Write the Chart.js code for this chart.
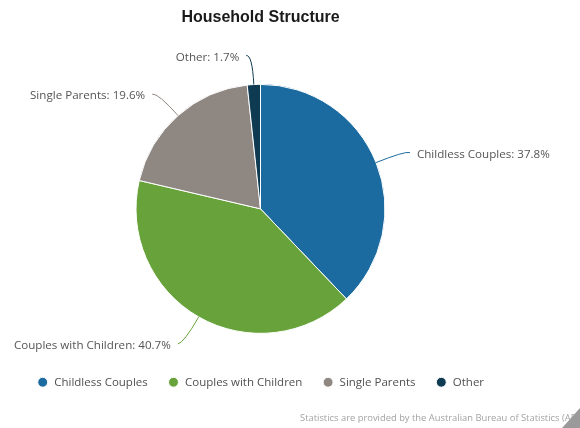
<!DOCTYPE html>
<html>
<head>
<meta charset="utf-8">
<title>Household Structure</title>
<script src="https://cdn.jsdelivr.net/npm/chart.js@4/dist/chart.umd.min.js"></script>
<style>
  html, body { margin: 0; padding: 0; background: #fff; }
  #wrap { width: 580px; height: 428px; position: relative; }
</style>
</head>
<body>
<div id="wrap"><canvas id="householdChart" width="580" height="428"></canvas></div>
<script>
// Household structure shares (percent)
var categories = ['Childless Couples', 'Couples with Children', 'Single Parents', 'Other'];
var shares = [37.8, 40.7, 19.6, 1.7];
var sliceColors = ['#1b6aa0', '#67a33a', '#8f8782', '#0e3a52'];
var creditText = 'Statistics are provided by the Australian Bureau of Statistics (ABS)';

// Draws "Name: value%" labels with curved connectors, like the original
var sliceLabels = {
  id: 'sliceLabels',
  afterDatasetsDraw: function (chart) {
    var ctx = chart.ctx;
    var meta = chart.getDatasetMeta(0);
    ctx.save();
    ctx.font = '11.6px "Open Sans"';
    ctx.textBaseline = 'middle';
    meta.data.forEach(function (arc, i) {
      var p = arc.getProps(['x', 'y', 'startAngle', 'endAngle', 'outerRadius'], true);
      var mid = (p.startAngle + p.endAngle) / 2;
      var cx = Math.cos(mid), cy = Math.sin(mid);
      var side = cx >= 0 ? 1 : -1;
      var ex = p.x + p.outerRadius * cx, ey = p.y + p.outerRadius * cy;
      var ax = p.x + (p.outerRadius + 30) * cx, ay = p.y + (p.outerRadius + 30) * cy;
      var endX = ax + side * 6, endY = ay + 1;

      ctx.strokeStyle = sliceColors[i];
      ctx.lineWidth = 1;
      ctx.beginPath();
      ctx.moveTo(ex, ey);
      ctx.quadraticCurveTo(ax, ay, endX, endY);
      ctx.stroke();

      ctx.fillStyle = '#555';
      ctx.textAlign = side > 0 ? 'left' : 'right';
      ctx.fillText(categories[i] + ': ' + shares[i] + '%', ax + side * 13, ay + 3);
    });
    ctx.restore();
  },
  afterDraw: function (chart) {
    var ctx = chart.ctx;
    ctx.save();
    ctx.font = '9.4px "Open Sans"';
    ctx.fillStyle = '#a3a3a3';
    ctx.textAlign = 'left';
    ctx.textBaseline = 'middle';
    ctx.fillText(creditText, 300, 418);
    // folded page corner
    ctx.fillStyle = '#9a9a9a';
    ctx.beginPath();
    ctx.moveTo(580, 408);
    ctx.lineTo(580, 428);
    ctx.lineTo(562, 428);
    ctx.closePath();
    ctx.fill();
    ctx.restore();
  }
};

var ctx = document.getElementById('householdChart');
var chart = new Chart(ctx, {
  type: 'pie',
  data: {
    labels: categories,
    datasets: [{
      data: shares,
      backgroundColor: sliceColors,
      borderColor: '#ffffff',
      borderWidth: 1,
      radius: 124.5
    }]
  },
  options: {
    responsive: false,
    animation: false,
    layout: { padding: { left: 0, right: 59, top: 0, bottom: 30 } },
    plugins: {
      title: {
        display: true,
        text: 'Household Structure',
        color: '#1a1a1a',
        font: { family: '"Liberation Sans", Arial, sans-serif', size: 16, weight: 'bold' },
        padding: { top: 8, bottom: 34 }
      },
      legend: {
        position: 'bottom',
        labels: {
          usePointStyle: true,
          pointStyle: 'circle',
          boxWidth: 14,
          boxHeight: 7,
          padding: 20,
          color: '#505050',
          font: { family: '"Open Sans"', size: 11.5 }
        }
      },
      tooltip: { enabled: false }
    }
  },
  plugins: [sliceLabels]
});
</script>
</body>
</html>
